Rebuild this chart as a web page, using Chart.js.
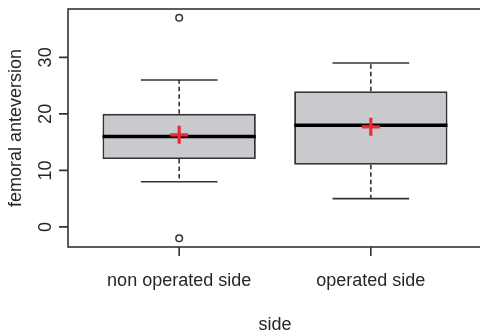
<!DOCTYPE html>
<html><head><meta charset="utf-8">
<script src="https://cdn.jsdelivr.net/npm/chart.js@4.4.0/dist/chart.umd.min.js"></script>
<style>html,body{margin:0;padding:0;overflow:hidden;background:#fff;width:480px;height:335px}canvas{display:block}</style>
</head><body>
<canvas id="c" width="485" height="335"></canvas>
<script>
const categories = ["non operated side", "operated side"];
const positions = [1, 2];
const lowerWhisker = [8, 5];
const q1 = [12, 11];
const median = [16, 18];
const q3 = [20, 24];
const upperWhisker = [26, 29];
const means = [16.3, 17.7];
const outliers = [[37, -2], []];
const yTicks = [0, 10, 20, 30];
const xTitle = "side";
const yTitle = "femoral anteversion";

const FONT = '18px "Liberation Sans", Arial, sans-serif';
const TEXT = '#262626';
const LINE = '#333333';

const boxPlugin = {
  id: 'boxplot',
  afterDatasetDraw(chart, args) {
    if (args.index !== 0) return;
    const ctx = chart.ctx, ys = chart.scales.y;
    const meta = chart.getDatasetMeta(0);
    meta.data.forEach((bar, i) => {
      const p = bar.getProps(['x', 'width'], true);
      const cx = p.x, hw = p.width / 2, cw = p.width / 4;
      ctx.save();
      ctx.strokeStyle = LINE;
      ctx.lineWidth = 1.6;
      ctx.setLineDash([4.5, 3]);
      ctx.beginPath();
      ctx.moveTo(cx, ys.getPixelForValue(q3[i]));
      ctx.lineTo(cx, ys.getPixelForValue(upperWhisker[i]));
      ctx.moveTo(cx, ys.getPixelForValue(q1[i]));
      ctx.lineTo(cx, ys.getPixelForValue(lowerWhisker[i]));
      ctx.stroke();
      ctx.setLineDash([]);
      ctx.beginPath();
      const yu = ys.getPixelForValue(upperWhisker[i]);
      const yl = ys.getPixelForValue(lowerWhisker[i]);
      ctx.moveTo(cx - cw, yu); ctx.lineTo(cx + cw, yu);
      ctx.moveTo(cx - cw, yl); ctx.lineTo(cx + cw, yl);
      ctx.stroke();
      ctx.strokeStyle = '#000';
      ctx.lineWidth = 3.5;
      const ym = ys.getPixelForValue(median[i]);
      ctx.beginPath();
      ctx.moveTo(cx - hw, ym); ctx.lineTo(cx + hw, ym);
      ctx.stroke();
      ctx.restore();
    });
  },
  afterDraw(chart) {
    const ctx = chart.ctx, a = chart.chartArea, xs = chart.scales.x, ys = chart.scales.y;
    ctx.save();
    ctx.strokeStyle = LINE;
    ctx.lineWidth = 1.6;
    ctx.strokeRect(a.left, a.top, a.right - a.left, a.bottom - a.top);
    ctx.beginPath();
    yTicks.forEach(v => {
      const py = ys.getPixelForValue(v);
      ctx.moveTo(a.left - 9, py); ctx.lineTo(a.left, py);
    });
    positions.forEach(v => {
      const px = xs.getPixelForValue(v);
      ctx.moveTo(px, a.bottom); ctx.lineTo(px, a.bottom + 9);
    });
    ctx.stroke();
    ctx.fillStyle = TEXT;
    ctx.font = FONT;
    ctx.textAlign = 'center';
    ctx.textBaseline = 'middle';
    yTicks.forEach(v => {
      const py = ys.getPixelForValue(v);
      ctx.save();
      ctx.translate(46, py);
      ctx.rotate(-Math.PI / 2);
      ctx.fillText(String(v), 0, 0);
      ctx.restore();
    });
    positions.forEach((v, i) => {
      ctx.fillText(categories[i], xs.getPixelForValue(v), 281);
    });
    ctx.fillText(xTitle, (a.left + a.right) / 2, 325);
    ctx.save();
    ctx.translate(16, (a.top + a.bottom) / 2);
    ctx.rotate(-Math.PI / 2);
    ctx.fillText(yTitle, 0, 0);
    ctx.restore();
    ctx.restore();
  }
};

const outlierPoints = [];
outliers.forEach((arr, i) => arr.forEach(v => outlierPoints.push({x: positions[i], y: v})));

new Chart(document.getElementById('c'), {
  type: 'bar',
  data: {
    datasets: [
      {
        type: 'bar',
        data: positions.map((p, i) => ({x: p, y: [q1[i], q3[i]]})),
        backgroundColor: '#c9cacd',
        borderColor: LINE,
        borderWidth: 1.9,
        borderSkipped: false,
        categoryPercentage: 0.8,
        barPercentage: 1.0,
        order: 3
      },
      {
        type: 'scatter',
        data: outlierPoints,
        pointStyle: 'circle',
        pointRadius: 3.3,
        pointBackgroundColor: '#fff',
        pointBorderColor: LINE,
        pointBorderWidth: 1.5,
        order: 2
      },
      {
        type: 'scatter',
        data: positions.map((p, i) => ({x: p, y: means[i]})),
        pointStyle: 'cross',
        pointRadius: 9,
        pointBorderColor: '#ee2a38',
        pointBorderWidth: 3.2,
        order: 1
      }
    ]
  },
  options: {
    responsive: false,
    animation: false,
    devicePixelRatio: 1,
    layout: {autoPadding: false, padding: {left: 68, top: 9, right: 3, bottom: 88}},
    plugins: {legend: {display: false}, tooltip: {enabled: false}},
    scales: {
      x: {type: 'linear', min: 0.42, max: 2.58, offset: false, display: false,
          afterBuildTicks: s => { s.ticks = positions.map(v => ({value: v})); }},
      y: {type: 'linear', min: -3.56, max: 38.56, display: false}
    }
  },
  plugins: [boxPlugin]
});
</script>
</body></html>
